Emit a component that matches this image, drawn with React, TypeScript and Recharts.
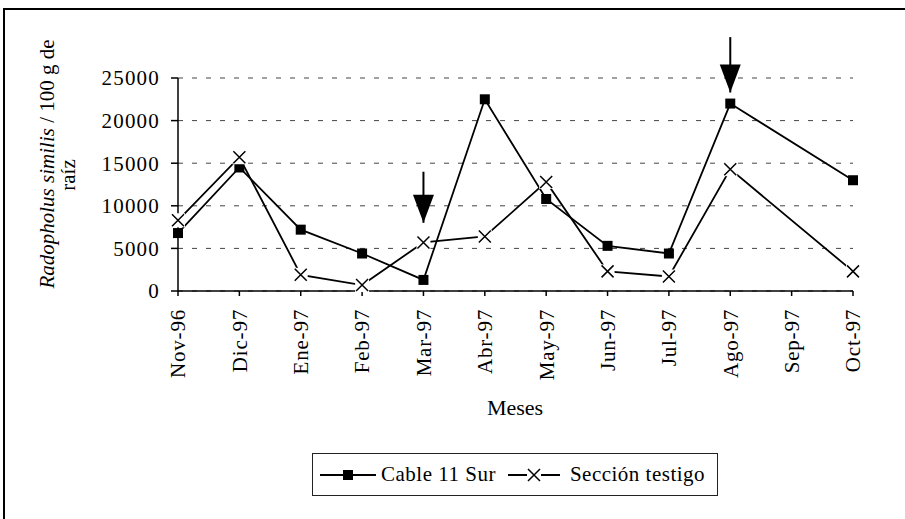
import { LineChart, Line, XAxis, YAxis, CartesianGrid, Legend, ReferenceLine, ReferenceDot } from 'recharts';

const months = ['Nov-96', 'Dic-97', 'Ene-97', 'Feb-97', 'Mar-97', 'Abr-97', 'May-97', 'Jun-97', 'Jul-97', 'Ago-97', 'Sep-97', 'Oct-97'];
const cable11Sur = [6800, 14500, 7200, 4400, 1300, 22500, 10800, 5300, 4400, 22000, null, 13000];
const seccionTestigo = [8300, 15700, 1900, 700, 5700, 6400, 12800, 2300, 1700, 14300, null, 2300];
const yTicks = [0, 5000, 10000, 15000, 20000, 25000];

// application arrows: month, shaft top value, tip value
const arrowMonths = ['Mar-97', 'Ago-97'];
const arrowFrom = [14000, 29800];
const arrowTo = [8000, 23300];

const data = months.map((m, i) => ({ month: m, cable: cable11Sur[i], testigo: seccionTestigo[i] }));

const FONT = '"Liberation Serif", "Times New Roman", serif';

function SquareDot(props: any) {
  const { cx, cy } = props;
  if (cx == null || cy == null) return null;
  return <rect x={cx - 5} y={cy - 5} width={10} height={10} fill="#000" />;
}

function CrossDot(props: any) {
  const { cx, cy } = props;
  if (cx == null || cy == null) return null;
  const r = 6;
  return (
    <g>
      <rect x={cx - 7} y={cy - 7} width={14} height={14} fill="#fff" />
      <path
        d={`M${cx - r},${cy - r}L${cx + r},${cy + r}M${cx + r},${cy - r}L${cx - r},${cy + r}`}
        stroke="#000"
        strokeWidth={1.5}
      />
    </g>
  );
}

function ArrowHead(props: any) {
  const { cx, cy } = props;
  if (cx == null || cy == null) return null;
  return <path d={`M${cx},${cy}L${cx - 10.5},${cy - 28}L${cx + 10.5},${cy - 28}Z`} fill="#000" />;
}

function MonthTick(props: any) {
  const { x, y, payload } = props;
  const ty = y + 11;
  return (
    <text
      x={x}
      y={ty}
      dy="0.35em"
      transform={`rotate(-90, ${x}, ${ty})`}
      textAnchor="end"
      fontFamily={FONT}
      fontSize={21}
      letterSpacing={0.8}
      fill="#000"
    >
      {payload.value}
    </text>
  );
}

function YTitle() {
  return (
    <g fontFamily={FONT} fontSize={21} fill="#000">
      <text x={47} y={164} dy="0.35em" transform="rotate(-90, 47, 164)" textAnchor="middle">
        <tspan fontStyle="italic">Radopholus similis</tspan>
        <tspan> / 100 g de</tspan>
      </text>
      <text x={68} y={175} dy="0.35em" transform="rotate(-90, 68, 175)" textAnchor="middle">
        raíz
      </text>
    </g>
  );
}

function XTitle() {
  return (
    <text x={515} y={415} textAnchor="middle" fontFamily={FONT} fontSize={22} fill="#000">
      Meses
    </text>
  );
}

function LegendBox() {
  return (
    <div
      style={{
        boxSizing: 'border-box',
        width: 406,
        height: 43,
        border: '1.5px solid #222',
        display: 'flex',
        alignItems: 'center',
        fontFamily: FONT,
        fontSize: 21,
        letterSpacing: 0.5,
        color: '#000',
        paddingLeft: 7,
        whiteSpace: 'nowrap',
      }}
    >
      <svg width={56} height={20}>
        <line x1={0} y1={10} x2={56} y2={10} stroke="#000" strokeWidth={2} />
        <rect x={23} y={5} width={10} height={10} fill="#000" />
      </svg>
      <span style={{ marginLeft: 5 }}>Cable 11 Sur</span>
      <svg width={52} height={20} style={{ marginLeft: 12 }}>
        <line x1={0} y1={10} x2={52} y2={10} stroke="#000" strokeWidth={2} />
        <rect x={19} y={3} width={14} height={14} fill="#fff" />
        <path d="M20,4L32,16M32,4L20,16" stroke="#000" strokeWidth={1.5} />
      </svg>
      <span style={{ marginLeft: 10 }}>Sección testigo</span>
    </div>
  );
}

export default function App() {
  return (
    <div style={{ position: 'relative', width: 905, height: 519, overflow: 'hidden', background: '#fff' }}>
      <style>{`body { margin: 0; }`}</style>
      <div
        style={{
          position: 'absolute',
          left: 3,
          top: 8,
          width: 940,
          height: 540,
          border: '2px solid #000',
        }}
      />
      <div style={{ position: 'absolute', left: 0, top: 0 }}>
        <LineChart width={905} height={519} data={data} margin={{ top: 78, right: 52, left: 108, bottom: 128 }}>
          <CartesianGrid vertical={false} stroke="#444" strokeDasharray="5 9" />
          <XAxis
            dataKey="month"
            interval={0}
            height={100}
            tick={<MonthTick />}
            tickSize={5}
            axisLine={{ stroke: '#000', strokeWidth: 1.5 }}
            tickLine={{ stroke: '#000', strokeWidth: 1.5 }}
          />
          <YAxis
            width={70}
            domain={[0, 25000]}
            ticks={yTicks}
            interval={0}
            tickSize={7}
            tickMargin={11}
            axisLine={{ stroke: '#000', strokeWidth: 1.5 }}
            tickLine={{ stroke: '#000', strokeWidth: 1.5 }}
            tick={{ fill: '#000', fontSize: 21, fontFamily: FONT, letterSpacing: 1.2 }}
          />
          <Line
            dataKey="cable"
            name="Cable 11 Sur"
            stroke="#000"
            strokeWidth={1.8}
            connectNulls
            dot={<SquareDot />}
            activeDot={false}
            isAnimationActive={false}
          />
          <Line
            dataKey="testigo"
            name="Sección testigo"
            stroke="#000"
            strokeWidth={1.8}
            connectNulls
            dot={<CrossDot />}
            activeDot={false}
            isAnimationActive={false}
          />
          {arrowMonths.map((m, i) => (
            <ReferenceLine
              key={'s' + m}
              segment={[
                { x: m, y: arrowFrom[i] },
                { x: m, y: arrowTo[i] },
              ]}
              stroke="#000"
              strokeWidth={2}
              ifOverflow="visible"
            />
          ))}
          {arrowMonths.map((m, i) => (
            <ReferenceDot key={'h' + m} x={m} y={arrowTo[i]} ifOverflow="visible" shape={<ArrowHead />} />
          ))}
          <Legend
            layout="horizontal"
            verticalAlign="middle"
            align="center"
            wrapperStyle={{ left: 312, top: 453, width: 406, height: 43 }}
            content={<LegendBox />}
          />
          <YTitle />
          <XTitle />
        </LineChart>
      </div>
    </div>
  );
}
